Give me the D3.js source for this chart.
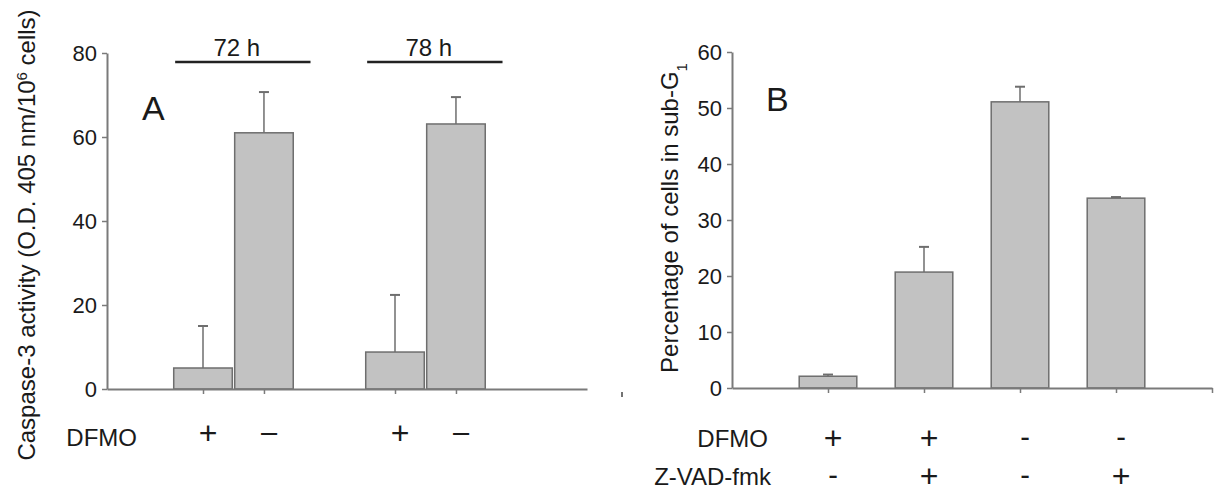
<!DOCTYPE html>
<html>
<head>
<meta charset="utf-8">
<script src="https://d3js.org/d3.v7.min.js"></script>
<style>
  body { margin: 0; background: #fff; }
  text { font-family: "Liberation Sans", Arial, sans-serif; fill: #1a1a1a; }
</style>
</head>
<body>
<script>
// Panel A: caspase-3 activity, two time points, DFMO + / -
var groupsA = ["72 h", "78 h"];
var dfmoA = ["+", "\u2013"];
var valuesA = [[5.0, 61.0], [8.8, 63.1]];
var errorsA = [[10.0, 9.7], [13.6, 6.4]];
var yTicksA = [0, 20, 40, 60, 80];

// Panel B: percentage of cells in sub-G1
var dfmoB = ["+", "+", "-", "-"];
var zvadB = ["-", "+", "-", "+"];
var valuesB = [2.1, 20.7, 51.1, 33.9];
var errorsB = [0.3, 4.5, 2.7, 0.2];
var yTicksB = [0, 10, 20, 30, 40, 50, 60];

var W = 1216, H = 500;
var axisColor = "#7a7a7a", barFill = "#c2c2c2", barStroke = "#6e6e6e";

var svg = d3.select("body").append("svg")
    .attr("width", W)
    .attr("height", H);

svg.append("rect").attr("width", W).attr("height", H).attr("fill", "#fff");

function styleAxis(g) {
  g.select(".domain").attr("stroke", axisColor).attr("stroke-width", 2);
  g.selectAll(".tick line").attr("stroke", axisColor).attr("stroke-width", 1.5);
  g.selectAll(".tick text")
    .attr("font-size", 22)
    .attr("fill", "#1a1a1a")
    .style("font-family", "'Liberation Sans', Arial, sans-serif");
}

// sign glyphs: plus drawn a bit larger, like the original
function signSize(s) { return s === "+" ? 32 : 29; }

function drawBar(g, x, w, y0, y1, yErr) {
  g.append("line")
    .attr("x1", x).attr("x2", x)
    .attr("y1", y1).attr("y2", yErr)
    .attr("stroke", barStroke).attr("stroke-width", 1.5);
  g.append("line")
    .attr("x1", x - 5).attr("x2", x + 5)
    .attr("y1", yErr).attr("y2", yErr)
    .attr("stroke", barStroke).attr("stroke-width", 2);
  g.append("rect")
    .attr("x", x - w / 2).attr("y", y1)
    .attr("width", w).attr("height", y0 - y1)
    .attr("fill", barFill)
    .attr("stroke", barStroke).attr("stroke-width", 1.5);
}

// ---------- Panel A ----------
var xA = d3.scaleLinear().domain([0, 5]).range([107, 587]);
var yA = d3.scaleLinear().domain([0, 80]).range([389, 53]);
var gA = svg.append("g");
var bwA = (xA(1) - xA(0)) * 0.61;
var centersA = [];

groupsA.forEach(function(grp, gi) {
  var base = 1 + gi * 2;
  dfmoA.forEach(function(sign, si) {
    var cx = xA(base + si * 0.635);
    centersA.push(cx);
    drawBar(gA, cx, bwA, yA(0), yA(valuesA[gi][si]), yA(valuesA[gi][si] + errorsA[gi][si]));
    gA.append("text")
      .attr("x", cx + 5).attr("y", sign === "+" ? 444 : 442)
      .attr("text-anchor", "middle")
      .attr("font-size", signSize(sign))
      .text(sign);
  });
  // bracket over group
  var b0 = xA(base - 0.29), b1 = xA(base + 1.12);
  gA.append("line")
    .attr("x1", b0).attr("x2", b1)
    .attr("y1", 62).attr("y2", 62)
    .attr("stroke", "#222").attr("stroke-width", 2.5);
  gA.append("text")
    .attr("x", (b0 + b1) / 2 - 6).attr("y", 56)
    .attr("text-anchor", "middle")
    .attr("font-size", 24)
    .text(grp);
});

gA.append("g")
  .attr("transform", "translate(" + xA(0) + ",0)")
  .call(d3.axisLeft(yA).tickValues(yTicksA).tickSize(5).tickSizeOuter(0).tickPadding(5))
  .call(styleAxis);

gA.append("g")
  .attr("transform", "translate(0," + yA(0) + ")")
  .call(d3.axisBottom(xA).tickValues(centersA.map(function(c) { return xA.invert(c); }))
    .tickSize(5).tickSizeOuter(0).tickFormat(""))
  .call(styleAxis);

gA.append("text")
  .attr("x", 137).attr("y", 446)
  .attr("text-anchor", "end")
  .attr("font-size", 24)
  .text("DFMO");

gA.append("text")
  .attr("x", 142).attr("y", 120)
  .attr("font-size", 34)
  .text("A");

var labA = gA.append("text")
  .attr("transform", "translate(35,235) rotate(-90)")
  .attr("text-anchor", "middle")
  .attr("font-size", 24);
labA.append("tspan").text("Caspase-3 activity (O.D. 405 nm/10");
labA.append("tspan").attr("baseline-shift", "super").attr("font-size", 15).text("6");
labA.append("tspan").text(" cells)");

// small stray mark from the original figure
svg.append("line")
  .attr("x1", 622).attr("x2", 622).attr("y1", 392).attr("y2", 397)
  .attr("stroke", "#444").attr("stroke-width", 1.5);

// ---------- Panel B ----------
var xB = d3.scaleLinear().domain([0, 5]).range([732, 1212]);
var yB = d3.scaleLinear().domain([0, 60]).range([388, 52]);
var gB = svg.append("g");
var bwB = (xB(1) - xB(0)) * 0.6;

valuesB.forEach(function(v, i) {
  var cx = xB(i + 1);
  drawBar(gB, cx, bwB, yB(0), yB(v), yB(v + errorsB[i]));
  gB.append("text")
    .attr("x", cx + 5).attr("y", dfmoB[i] === "+" ? 449 : 447)
    .attr("text-anchor", "middle")
    .attr("font-size", signSize(dfmoB[i]))
    .text(dfmoB[i]);
  gB.append("text")
    .attr("x", cx + 5).attr("y", zvadB[i] === "+" ? 487 : 485)
    .attr("text-anchor", "middle")
    .attr("font-size", signSize(zvadB[i]))
    .text(zvadB[i]);
});

gB.append("g")
  .attr("transform", "translate(" + xB(0) + ",0)")
  .call(d3.axisLeft(yB).tickValues(yTicksB).tickSize(5).tickSizeOuter(0).tickPadding(5))
  .call(styleAxis);

gB.append("g")
  .attr("transform", "translate(0," + yB(0) + ")")
  .call(d3.axisBottom(xB).tickValues([1, 2, 3, 4, 5]).tickSize(5).tickSizeOuter(0).tickFormat(""))
  .call(styleAxis);

gB.append("text")
  .attr("x", 768).attr("y", 447)
  .attr("text-anchor", "end")
  .attr("font-size", 24)
  .text("DFMO");
gB.append("text")
  .attr("x", 771).attr("y", 485)
  .attr("text-anchor", "end")
  .attr("font-size", 24)
  .text("Z-VAD-fmk");

gB.append("text")
  .attr("x", 766).attr("y", 111)
  .attr("font-size", 34)
  .text("B");

var labB = gB.append("text")
  .attr("transform", "translate(678,218) rotate(-90)")
  .attr("text-anchor", "middle")
  .attr("font-size", 24);
labB.append("tspan").text("Percentage of cells in sub-G");
labB.append("tspan").attr("baseline-shift", "sub").attr("font-size", 15).text("1");
</script>
</body>
</html>
